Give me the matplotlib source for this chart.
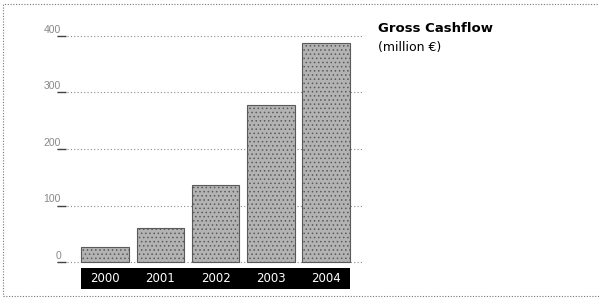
import matplotlib
matplotlib.use("Agg")
import matplotlib.pyplot as plt
from matplotlib.patches import Rectangle

years = ["2000", "2001", "2002", "2003", "2004"]
cashflow = [27, 60, 136, 277, 388]
y_ticks = [0, 100, 200, 300, 400]
title = "Gross Cashflow"
subtitle = "(million €)"

plt.rcParams["hatch.linewidth"] = 0.6

fig = plt.figure(figsize=(5.99, 2.98), dpi=100)
ax = fig.add_axes([0.0952, 0.0221, 0.509, 0.8799])
ax.set_xlim(-0.87, 4.65)
ax.set_ylim(-52, 412)
ax.axis("off")

x = list(range(len(years)))
width = 0.86

# dotted grid lines behind the bars, with a short solid stub under each label
ax.hlines(y_ticks, -0.87, 4.65, colors="#8a8a8a", linestyles=(0, (1, 2)),
          linewidth=0.8, zorder=1)
ax.hlines(y_ticks, -0.87, -0.70, colors="#444444", linewidth=1.0, zorder=1)
for t in y_ticks:
    ax.text(-0.80, t + 2, str(t), ha="right", va="bottom", fontsize=7.5,
            color="#888888", family="Liberation Sans")

ax.bar(x, cashflow, width=width, color="#b3b3b3", edgecolor="#5a5a5a",
       hatch="....", linewidth=0.8, zorder=2)

# black band with the years
band_left = x[0] - width / 2
band_right = x[-1] + width / 2
ax.add_patch(Rectangle((band_left, -48), band_right - band_left, 37,
                       facecolor="black", edgecolor="none", zorder=2))
for xi, yr in zip(x, years):
    ax.text(xi, -30, yr, ha="center", va="center", color="white",
            fontsize=8.5, family="DejaVu Sans", zorder=3)

fig.text(0.631, 0.925, title, ha="left", va="top", fontsize=9.5,
         fontweight="bold", family="DejaVu Sans")
fig.text(0.631, 0.862, subtitle, ha="left", va="top", fontsize=9,
         family="DejaVu Sans")

# dotted frame around the whole graphic
fig.add_artist(Rectangle((0.005, 0.006), 1.2, 0.981, transform=fig.transFigure,
                         fill=False, edgecolor="#777777", linewidth=0.8,
                         linestyle=(0, (1, 1.5))))

fig.savefig("out.png", dpi=100)
